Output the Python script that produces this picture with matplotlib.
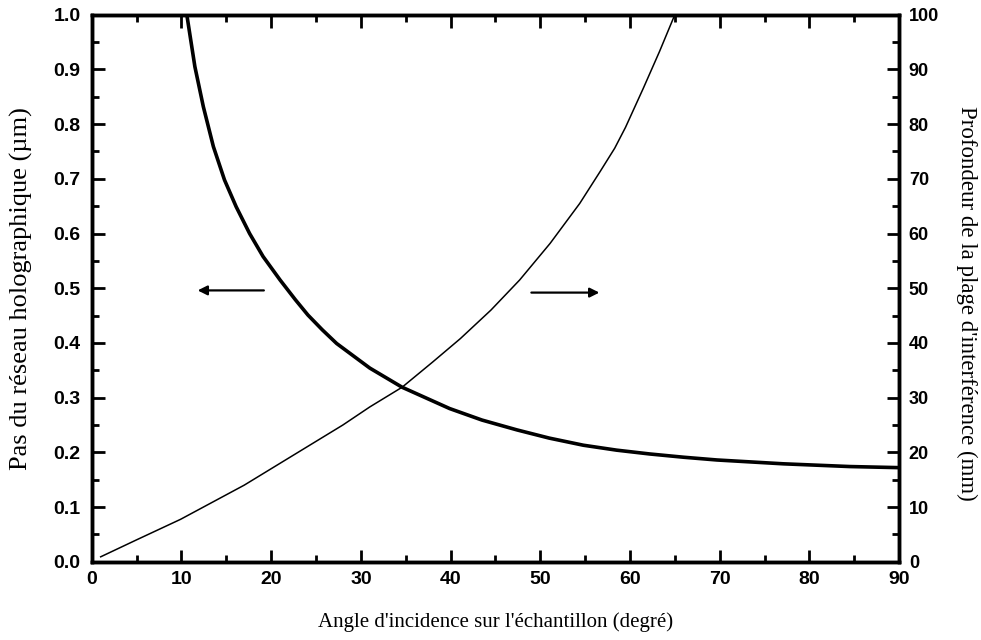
import matplotlib.pyplot as plt
import numpy as np

# angle (deg) vs grating period (um)
angle_pas = [10.6, 11.5, 12.44, 13.56, 14.8, 16.1, 17.6, 19.1, 21.0, 22.7, 24.1, 25.7,
             27.3, 31.0, 34.6, 39.9, 43.5, 47.4, 51.0, 54.8, 58.5, 62.2, 66.0, 69.7,
             77.1, 84.5, 90.0]
pas = [1.0, 0.905, 0.832, 0.759, 0.698, 0.649, 0.600, 0.558, 0.515, 0.479, 0.451, 0.424,
       0.399, 0.354, 0.319, 0.280, 0.259, 0.241, 0.226, 0.213, 0.204, 0.197, 0.191, 0.186,
       0.179, 0.174, 0.172]

# angle (deg) vs depth of interference zone (mm), thin curve
angle_prof = [1.0, 5.0, 9.9, 17.0, 22.1, 28.0, 31.0, 34.6, 38.0, 41.1, 44.5, 47.7, 51.1,
              54.4, 56.7, 58.3, 59.5, 61.5, 63.3, 65.0]
prof = [0.9, 4.0, 7.75, 14.0, 19.1, 25.0, 28.3, 31.9, 36.5, 40.8, 46.0, 51.5, 58.2,
        65.5, 71.4, 75.6, 79.4, 86.6, 93.3, 100.0]

xticks = list(range(0, 91, 10))
yticks_left = [0.0, 0.1, 0.2, 0.3, 0.4, 0.5, 0.6, 0.7, 0.8, 0.9, 1.0]
yticks_right = list(range(0, 101, 10))

fig = plt.figure(figsize=(9.81, 6.40), dpi=100)
ax = fig.add_axes([0.0935, 0.1223, 0.823, 0.8547])
ax2 = ax.twinx()

ax.plot(angle_pas, pas, color='black', lw=2.6, solid_capstyle='butt')
ax2.plot(angle_prof, prof, color='black', lw=1.1)

ax.set_xlim(0, 90)
ax.set_ylim(0, 1.0)
ax2.set_ylim(0, 100)

tickfont = dict(family='Liberation Sans', weight='bold', size=14)
ax.set_xticks(xticks)
ax.set_xticks(np.arange(5, 90, 10), minor=True)
ax.set_xticklabels([str(t) for t in xticks], **tickfont)
ax.set_yticks(yticks_left)
ax.set_yticks(np.arange(0.05, 1.0, 0.1), minor=True)
ax.set_yticklabels(['%.1f' % t for t in yticks_left], **tickfont)
ax2.set_yticks(yticks_right)
ax2.set_yticks(np.arange(5, 100, 10), minor=True)
ax2.set_yticklabels([str(t) for t in yticks_right], **dict(tickfont, size=13))

ax.tick_params(which='both', direction='in', top=True, width=2, pad=8)
ax.tick_params(which='major', length=9)
ax.tick_params(which='minor', length=5)
ax.tick_params(axis='x', pad=7)
ax2.tick_params(which='both', direction='in', width=2, pad=7)
ax2.tick_params(which='major', length=9)
ax2.tick_params(which='minor', length=5)

for a in (ax, ax2):
    for s in a.spines.values():
        s.set_linewidth(2.5)

ax.set_xlabel("Angle d'incidence sur l'échantillon (degré)",
              family='Liberation Serif', size=15)
ax.xaxis.set_label_coords(0.5, -0.092)
ax.set_ylabel("Pas du réseau holographique (µm)", family='Liberation Serif', size=19)
ax.yaxis.set_label_coords(-0.073, 0.5)
ax2.set_ylabel("Profondeur de la plage d'interférence (mm)", family='Liberation Serif',
               size=16.5, rotation=-90, va='bottom')
ax2.yaxis.set_label_coords(1.07, 0.473)

# arrows pointing to the axis each curve belongs to
ax.annotate('', xy=(11.5, 0.496), xytext=(19.5, 0.496),
            arrowprops=dict(arrowstyle='-|>', color='black', lw=1.6, mutation_scale=14))
ax2.annotate('', xy=(56.9, 49.2), xytext=(48.7, 49.2),
             arrowprops=dict(arrowstyle='-|>', color='black', lw=1.6, mutation_scale=14))

fig.savefig('out.png', dpi=100)
